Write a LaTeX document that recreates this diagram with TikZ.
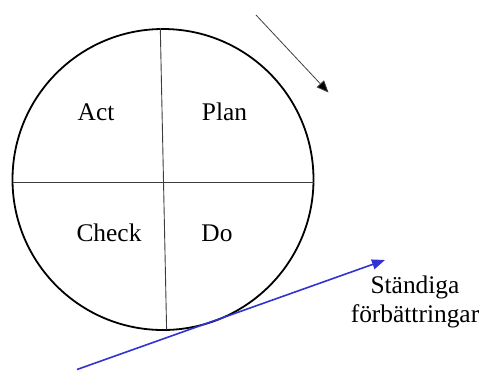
\documentclass[tikz,border=0pt]{standalone}
\usepackage{fontspec}
\setmainfont{Liberation Serif}
\usetikzlibrary{arrows.meta}
\definecolor{bluearrow}{RGB}{50,50,210}
\definecolor{divline}{RGB}{60,60,60}
\tikzset{
  lbl/.style={font=\fontsize{25.5}{29}\selectfont, inner sep=0pt, anchor=base},
  divider/.style={draw=divline, line width=0.9bp},
}
\begin{document}
\begin{tikzpicture}[x=1bp,y=-1bp]
\useasboundingbox (0,0) rectangle (484,370);
\coordinate (ctr) at (163,179.5);
\draw[line width=1.8bp] (ctr) circle[radius=150.5];
\coordinate (vt) at (160.3,28);
\coordinate (vb) at (166.6,329.5);
\coordinate (hl) at (12.5,182.7);
\coordinate (hr) at (313.5,182.7);
\draw[divider] (vt) -- (vb);
\draw[divider] (hl) -- (hr);
\node[lbl] (act) at (96,120.7) {Act};
\node[lbl] (plan) at (224.5,120.7) {Plan};
\node[lbl] (check) at (109,241.5) {Check};
\node[lbl] (do) at (217,241.5) {Do};
\node[lbl] (impr1) at (415,293) {Ständiga};
\node[lbl] (impr2) at (415,322.5) {förbättringar};
\coordinate (ka) at (256,15);
\coordinate (kb) at (328.5,92.5);
\draw[draw=black!75, line width=0.8bp, -{Triangle[length=12bp,width=10bp,fill=black]}] (ka) -- (kb);
\coordinate (ba) at (77,369.5);
\coordinate (bb) at (385,260);
\draw[bluearrow, line width=1.6bp, -{Triangle[length=13bp,width=10bp]}] (ba) -- (bb);
\end{tikzpicture}
\end{document}
